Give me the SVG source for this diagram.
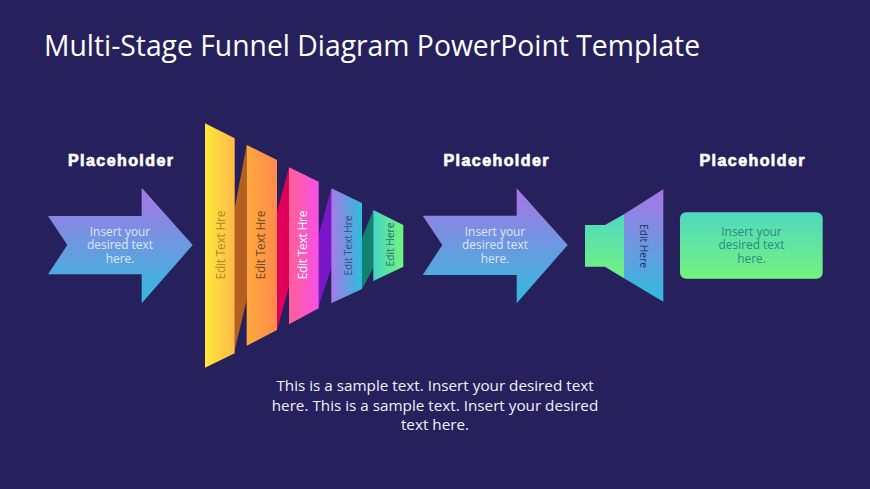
<svg xmlns="http://www.w3.org/2000/svg" width="870" height="489" viewBox="0 0 870 489">
<defs>
<linearGradient id="gArrow" x1="0" y1="0" x2="0" y2="1"><stop offset="0" stop-color="#a875e6"/><stop offset="1" stop-color="#2fbcdc"/></linearGradient>
<linearGradient id="gGreen" x1="0" y1="0" x2="0" y2="1"><stop offset="0" stop-color="#4fd9c0"/><stop offset="1" stop-color="#74f27e"/></linearGradient>
<linearGradient id="g1" x1="0" y1="0" x2="1" y2="0"><stop offset="0" stop-color="#fde93a"/><stop offset="1" stop-color="#ffb948"/></linearGradient>
<linearGradient id="g2" x1="0" y1="0" x2="1" y2="0"><stop offset="0" stop-color="#ffa83e"/><stop offset="1" stop-color="#ff8a4c"/></linearGradient>
<linearGradient id="g3" x1="0" y1="0" x2="1" y2="0"><stop offset="0" stop-color="#ff6096"/><stop offset="1" stop-color="#f850e8"/></linearGradient>
<linearGradient id="g4" x1="0" y1="0" x2="1" y2="0"><stop offset="0" stop-color="#a67ae6"/><stop offset="1" stop-color="#2fbcdc"/></linearGradient>
<linearGradient id="g5" x1="0" y1="0" x2="1" y2="0"><stop offset="0" stop-color="#45d6c4"/><stop offset="1" stop-color="#74f27e"/></linearGradient>
</defs>
<style>
text{font-family:"Open Sans","Noto Sans","Liberation Sans",sans-serif}
.head{font-family:"Liberation Sans",Arial,sans-serif;font-weight:700;font-size:16px;fill:#fff;stroke:#fff;stroke-width:.7;text-anchor:middle}
.body{font-size:11.900px;text-anchor:middle}
.edit{text-anchor:middle}
</style>
<rect width="870" height="489" fill="#26215c"/>
<text id="title" x="44" y="56" font-size="28.300" fill="#fff">Multi-Stage Funnel Diagram PowerPoint Template</text>
<text class="head" x="120.500" y="166" textLength="105">Placeholder</text>
<text class="head" x="496" y="166" textLength="105">Placeholder</text>
<text class="head" x="752" y="166" textLength="105">Placeholder</text>
<g id="connectors">
<polygon points="234.700,208 246.700,145 246.700,300 234.700,350" fill="#b5601f"/>
<polygon points="277,212 289,167.300 289,286.700 277,330" fill="#e0005a"/>
<polygon points="318.700,235 331.300,188.300 331.300,268 318.700,306" fill="#7a16c8"/>
<polygon points="362,238 373.300,210 373.300,268 362,289" fill="#0f8270"/>
</g>
<g id="arrow-left">
<polygon points="48,216 141.700,216 141.700,187.700 192.700,245 141.700,303.300 141.700,274.300 48,274.300 67.300,245" fill="url(#gArrow)"/>
<text class="body" fill="#dfe6fb" y="235.500"><tspan x="120">Insert your</tspan><tspan x="120" dy="13.500">desired text</tspan><tspan x="120" dy="13.500">here.</tspan></text>
</g>
<g id="funnel-1">
<polygon points="205,123.300 234.700,138.300 234.700,353.300 205,367.700" fill="url(#g1)"/>
<text class="edit" font-size="12" textLength="69" fill="#b08a2c" transform="translate(225,245) rotate(-90)">Edit Text Hre</text>
</g>
<g id="funnel-2">
<polygon points="246.700,145 277,160 277,330 246.700,345.700" fill="url(#g2)"/>
<text class="edit" font-size="12" textLength="69" fill="#6b4a20" transform="translate(265,245) rotate(-90)">Edit Text Hre</text>
</g>
<g id="funnel-3">
<polygon points="289,167.300 318.700,181.700 318.700,308.300 289,324.300" fill="url(#g3)"/>
<text class="edit" font-size="12" textLength="69" fill="#fff" transform="translate(307,245) rotate(-90)">Edit Text Hre</text>
</g>
<g id="funnel-4">
<polygon points="331.300,188.300 362,203 362,289 331.300,303.300" fill="url(#g4)"/>
<text class="edit" font-size="10.200" textLength="60" fill="#3f4a7a" transform="translate(351.500,245.500) rotate(-90)">Edit Text Hre</text>
</g>
<g id="funnel-5">
<polygon points="373.300,210 403.300,225 403.300,266.700 373.300,281" fill="url(#g5)"/>
<text class="edit" font-size="10.200" textLength="44" fill="#2f6f6a" transform="translate(394,244.500) rotate(-90)">Edit Here</text>
</g>
<g id="arrow-middle">
<polygon points="422.700,215.700 516.700,215.700 516.700,188.300 567.700,245 516.700,303.300 516.700,275 422.700,275 442.300,245" fill="url(#gArrow)"/>
<text class="body" fill="#dfe6fb" y="235.500"><tspan x="495">Insert your</tspan><tspan x="495" dy="13.500">desired text</tspan><tspan x="495" dy="13.500">here.</tspan></text>
</g>
<g id="speaker">
<polygon points="585,225 605,225 624,214.300 624,278.300 605,266.700 585,266.700" fill="url(#gGreen)"/>
<polygon points="624,214.300 663.300,189.300 663.300,301.700 624,278.300" fill="url(#gArrow)"/>
<text class="edit" font-size="10.200" textLength="44" fill="#1f2f66" transform="translate(639.500,246) rotate(90)">Edit Here</text>
</g>
<g id="card">
<rect x="680" y="212.300" width="142.700" height="66.400" rx="6" fill="url(#gGreen)"/>
<text class="body" fill="#2f8a80" y="235.500"><tspan x="751.500">Insert your</tspan><tspan x="751.500" dy="13.500">desired text</tspan><tspan x="751.500" dy="13.500">here.</tspan></text>
</g>
<g id="caption" fill="#f0f0f6" font-size="15.250" text-anchor="middle">
<text y="391"><tspan x="435">This is a sample text. Insert your desired text</tspan><tspan x="435" dy="19.500">here. This is a sample text. Insert your desired</tspan><tspan x="435" dy="19.500">text here.</tspan></text>
</g>
</svg>
